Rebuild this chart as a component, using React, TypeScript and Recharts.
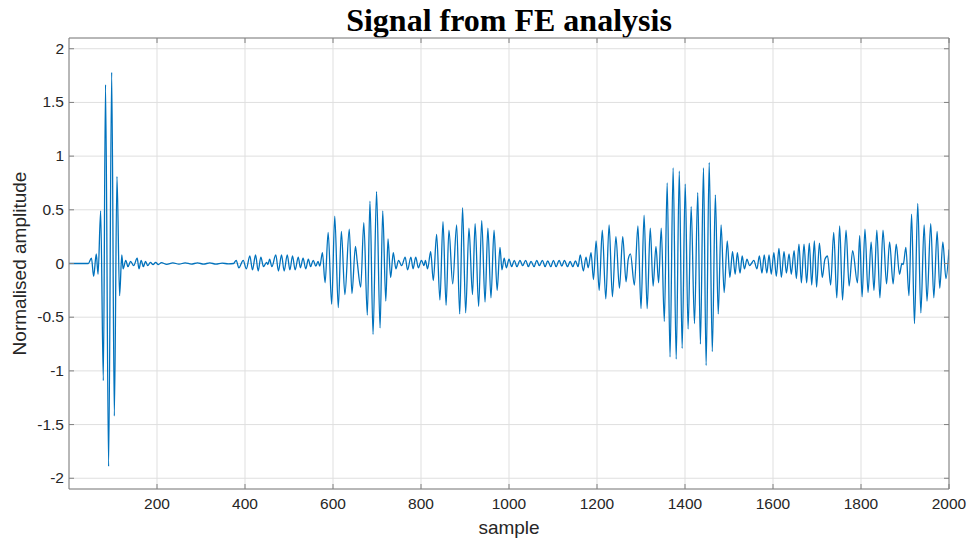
import { CartesianGrid, Line, LineChart, XAxis, YAxis } from "recharts";

// [sample, amplitude] turning points of the FE response, one list per stretch of the record
const leadIn: [number, number][] = [
  [0, 0],
  [44, 0],
];

const impactBurst: [number, number][] = [
  [51, 0.05], [56, -0.12], [62, 0.09], [66, -0.1], [72, 0.49], [78, -1.09],
  [83, 1.665], [90, -1.89], [97, 1.78], [103, -1.42], [109, 0.81], [115, -0.3],
  [120, 0.08], [123, -0.05], [129, 0.03], [134, -0.03], [140, 0.02], [147, -0.02],
  [155, 0.05], [159, -0.05], [164, 0.03], [169, -0.03], [174, 0.02], [179, -0.02],
  [185, 0.01], [191, -0.01], [197, 0.01], [203, -0.01],
];

const quietA: [number, number][] = [
  [210, 0.008], [222, -0.008], [236, 0.006], [250, -0.006], [264, 0.006],
  [278, -0.005], [292, 0.005], [306, -0.005], [320, 0.005], [334, -0.005],
  [348, 0.004], [362, -0.004], [374, 0],
];

const echoA: [number, number][] = [
  [380, 0.03], [386, -0.04], [396, 0.03], [403, -0.05], [411, 0.07], [417, -0.06],
  [424, 0.08], [430, -0.07], [436, 0.06], [442, -0.03], [449, 0.01], [452, -0.01],
  [456, 0.04], [461, -0.03], [470, 0.08], [476, -0.07], [483, 0.08], [489, -0.07],
  [496, 0.08], [502, -0.06], [508, 0.07], [514, -0.06], [521, 0.06], [526, -0.04],
  [532, 0.05], [538, -0.05], [544, 0.04], [549, -0.03], [555, 0.03], [561, -0.025],
  [566, 0.02], [570, -0.025], [576, 0.1], [582, -0.18], [589, 0.29], [597, -0.38],
  [604, 0.44], [612, -0.41], [619, 0.3], [627, -0.29], [637, 0.32], [643, -0.28],
  [651, 0.16], [655, 0.02], [663, -0.22], [670, 0.38], [678, -0.48], [684, 0.58],
  [691, -0.66], [699, 0.67], [707, -0.6], [713, 0.49], [720, -0.35], [725, 0.23],
  [731, -0.13], [737, 0.1], [743, -0.05], [749, 0.03],
];

const quietB: [number, number][] = [
  [756, -0.02], [764, 0.06], [769.5, -0.06], [777, 0.06], [782, -0.05], [788, 0.06],
  [794, -0.04], [801, 0.03], [807, -0.02], [810, 0.03], [815, -0.05],
];

const echoB: [number, number][] = [
  [822, 0.11], [828, -0.16], [835.5, 0.27], [843, -0.34], [850, 0.39], [857, -0.39],
  [863.5, 0.31], [872, -0.19], [881, 0.36], [888, -0.47], [894.5, 0.52], [901.5, -0.46],
  [909, 0.33], [917, -0.29], [923, 0.37], [931, -0.4], [938, 0.4], [945.5, -0.36],
  [952, 0.33], [959, -0.32], [966, 0.31], [973, -0.25], [979.5, 0.15], [984, -0.06],
  [989, 0.05], [994, -0.04],
];

const quietC: [number, number][] = [
  [1000, 0.04], [1006, -0.03], [1012, 0.03], [1018, -0.03], [1025, 0.03], [1031, -0.02],
  [1038, 0.03], [1044, -0.03], [1050, 0.02], [1057, -0.03], [1063, 0.03], [1069, -0.02],
  [1076, 0.03], [1082, -0.03], [1088, 0.025], [1095, -0.03], [1101, 0.03], [1107, -0.03],
  [1114, 0.03], [1120, -0.025], [1126, 0.03], [1133, -0.03], [1139, 0.02], [1145, -0.03],
  [1151, 0.025], [1157, -0.03],
];

const echoC: [number, number][] = [
  [1162, 0.08], [1169, -0.07], [1175, 0.06], [1180, -0.04], [1186.5, 0.1], [1192, -0.15],
  [1198, 0.21], [1205, -0.25], [1212, 0.31], [1220, -0.33], [1227.5, 0.36], [1235, -0.31],
  [1243, 0.25], [1251, -0.23], [1258.5, 0.25], [1266, -0.17], [1271, 0.04], [1276, 0.09],
  [1285, -0.2], [1293, 0.35], [1300, -0.42], [1307, 0.45], [1314, -0.42], [1321, 0.33],
  [1327.5, -0.21], [1334, 0.16], [1340, -0.18], [1346, 0.33], [1353, -0.54], [1359.5, 0.75],
  [1366, -0.87], [1373, 0.89], [1380, -0.89], [1387, 0.86], [1393.5, -0.79], [1400.5, 0.74],
  [1407, -0.61], [1414, 0.53], [1421.5, -0.56], [1429, 0.66], [1435, -0.75], [1442, 0.89],
  [1448, -0.95], [1455, 0.94], [1462, -0.82], [1469, 0.64], [1475.5, -0.47], [1482, 0.36],
  [1489, -0.27], [1496, 0.21], [1502, -0.13], [1508, 0.11], [1514, -0.1], [1519, 0.1],
  [1525, -0.09], [1530, 0.07], [1535, -0.05], [1541, 0.04], [1546.5, -0.02], [1551, 0],
  [1556.5, 0.03], [1563.5, -0.05], [1569, 0.07], [1575, -0.09], [1580, 0.08], [1586, -0.09],
  [1591, 0.08], [1596, -0.1],
];

const echoD: [number, number][] = [
  [1602, 0.1], [1607.5, -0.12], [1613.5, 0.14], [1619, -0.13], [1625, 0.11], [1630.5, -0.09],
  [1636.5, 0.09], [1641.5, -0.1], [1648, 0.12], [1653, -0.14], [1659, 0.18], [1664.5, -0.18],
  [1670.5, 0.18], [1676.5, -0.18], [1682.5, 0.19], [1688, -0.2], [1694, 0.21], [1699, -0.22],
  [1705.5, 0.19], [1712, -0.13], [1718, 0.04], [1724, 0.07], [1731, -0.2], [1738, 0.29],
  [1745, -0.32], [1751.5, 0.35], [1758, -0.34], [1766, 0.31], [1773, -0.21], [1781, 0.12],
  [1792, -0.18], [1797, 0.26], [1802.5, -0.31], [1809, 0.32], [1816, -0.27], [1823, 0.2],
  [1829.5, -0.25], [1836, 0.31], [1843, -0.32], [1850, 0.31], [1858, -0.19], [1865, 0.2],
  [1873, -0.19], [1880, 0.18], [1887.5, -0.1], [1893, 0], [1896, -0.01], [1902, 0.15],
  [1909, -0.3], [1915, 0.46], [1921.5, -0.56], [1929, 0.56], [1936, -0.46], [1943.5, 0.36],
  [1950, -0.35], [1958.5, 0.37], [1965.5, -0.32], [1973, 0.3], [1979, -0.23], [1986, 0.2],
  [1993, -0.14], [2000, 0.13],
];

const xTicks = [200, 400, 600, 800, 1000, 1200, 1400, 1600, 1800, 2000];
const yTicks = [-2, -1.5, -1, -0.5, 0, 0.5, 1, 1.5, 2];

const signal = [
  ...leadIn,
  ...impactBurst,
  ...quietA,
  ...echoA,
  ...quietB,
  ...echoB,
  ...quietC,
  ...echoC,
  ...echoD,
].map(([sample, amplitude]) => ({ sample, amplitude }));

const AXIS = "#808080";
const GRID = "#dfdfdf";
const INK = "#262626";
const FONT = "'Liberation Sans', Arial, Helvetica, sans-serif";
const TICK_SIZE = 15.5;
const LABEL_SIZE = 19;
const TICK_LEN = 5;

function BottomTick(props: any) {
  const { x, y, payload } = props;
  return (
    <g>
      <line x1={x} y1={y} x2={x} y2={y - TICK_LEN} stroke={AXIS} />
      <text x={x} y={y + 20} textAnchor="middle" fill={INK} fontSize={TICK_SIZE} fontFamily={FONT}>
        {payload.value}
      </text>
    </g>
  );
}

function TopTick(props: any) {
  const { x, y } = props;
  return <line x1={x} y1={y} x2={x} y2={y + TICK_LEN} stroke={AXIS} />;
}

function LeftTick(props: any) {
  const { x, y, payload } = props;
  return (
    <g>
      <line x1={x} y1={y} x2={x + TICK_LEN} y2={y} stroke={AXIS} />
      <text x={x - 5} y={y + 5} textAnchor="end" fill={INK} fontSize={TICK_SIZE} fontFamily={FONT}>
        {payload.value}
      </text>
    </g>
  );
}

function RightTick(props: any) {
  const { x, y } = props;
  return <line x1={x} y1={y} x2={x - TICK_LEN} y2={y} stroke={AXIS} />;
}

export default function App() {
  return (
    <div style={{ position: "absolute", left: 0, top: 0, width: 971, height: 539, background: "#fff" }}>
      <div
        style={{
          position: "absolute",
          left: 69,
          width: 880,
          top: 1,
          textAlign: "center",
          fontFamily: "'Liberation Serif', 'Times New Roman', serif",
          fontWeight: 700,
          fontSize: 32,
          color: "#000",
          lineHeight: "38px",
        }}
      >
        Signal from FE analysis
      </div>
      <LineChart width={971} height={539} data={signal} margin={{ top: 0, right: 0, bottom: 0, left: 0 }}>
        <CartesianGrid xAxisId="x" yAxisId="y" stroke={GRID} strokeWidth={1} />
        <XAxis
          xAxisId="x"
          dataKey="sample"
          type="number"
          domain={[0, 2000]}
          ticks={xTicks}
          allowDataOverflow
          height={50}
          tickSize={0}
          tickMargin={0}
          tickLine={false}
          axisLine={{ stroke: AXIS }}
          tick={<BottomTick />}
          label={{ value: "sample", position: "insideBottom", offset: 5, fill: INK, fontSize: LABEL_SIZE, fontFamily: FONT }}
        />
        <XAxis
          xAxisId="xt"
          orientation="top"
          dataKey="sample"
          type="number"
          domain={[0, 2000]}
          ticks={xTicks}
          allowDataOverflow
          height={38}
          tickSize={0}
          tickMargin={0}
          tickLine={false}
          axisLine={{ stroke: AXIS }}
          tick={<TopTick />}
        />
        <YAxis
          yAxisId="y"
          type="number"
          domain={[-2.1, 2.1]}
          ticks={yTicks}
          allowDataOverflow
          width={69}
          tickSize={0}
          tickMargin={0}
          tickLine={false}
          axisLine={{ stroke: AXIS }}
          tick={<LeftTick />}
          label={{
            value: "Normalised amplitude",
            angle: -90,
            position: "insideLeft",
            offset: 19,
            fill: INK,
            fontSize: LABEL_SIZE,
            fontFamily: FONT,
            style: { textAnchor: "middle" },
          }}
        />
        <YAxis
          yAxisId="yr"
          orientation="right"
          type="number"
          domain={[-2.1, 2.1]}
          ticks={yTicks}
          allowDataOverflow
          width={22}
          tickSize={0}
          tickMargin={0}
          tickLine={false}
          axisLine={{ stroke: AXIS }}
          tick={<RightTick />}
        />
        <Line
          xAxisId="x"
          yAxisId="y"
          dataKey="amplitude"
          type="monotone"
          stroke="#0072BD"
          strokeWidth={1.3}
          dot={false}
          activeDot={false}
          isAnimationActive={false}
        />
      </LineChart>
    </div>
  );
}
